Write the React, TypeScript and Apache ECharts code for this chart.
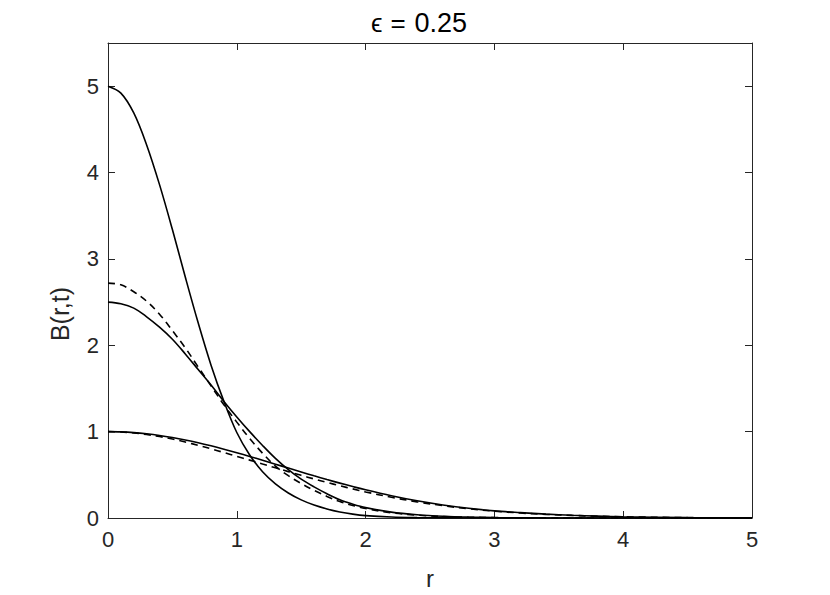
import React, { useEffect, useRef } from "react";
import * as echarts from "echarts";

const titleEps = "\u03f5";
const titleEq = "=";
const titleVal = "0.25";
const xName = "r";
const yName = "B(r,t)";
const xTicks = [0, 1, 2, 3, 4, 5];
const yTicks = [0, 1, 2, 3, 4, 5];

const rValues = [0, 0.1, 0.2, 0.3, 0.4, 0.5, 0.6, 0.7, 0.8, 0.9, 1.0, 1.1, 1.2, 1.3, 1.4, 1.5, 1.6, 1.7, 1.8, 1.9, 2.0, 2.2, 2.4, 2.6, 2.8, 3.0, 3.2, 3.4, 3.6, 3.8, 4.0, 4.5, 5.0];

const solidPeak5 = [5.0, 4.92, 4.69, 4.32, 3.86, 3.34, 2.79, 2.26, 1.77, 1.35, 0.99, 0.73, 0.535, 0.395, 0.29, 0.21, 0.15, 0.105, 0.07, 0.045, 0.028, 0.011, 0.004, 0.0015, 0.0006, 0.0002, 0, 0, 0, 0, 0, 0, 0];
const solidPeak25 = [2.5, 2.48, 2.43, 2.33, 2.21, 2.07, 1.9, 1.72, 1.54, 1.35, 1.17, 1.0, 0.84, 0.69, 0.56, 0.45, 0.36, 0.28, 0.21, 0.16, 0.12, 0.068, 0.038, 0.02, 0.01, 0.005, 0.0025, 0.001, 0.0005, 0, 0, 0, 0];
const dashedPeak27 = [2.72, 2.7, 2.62, 2.51, 2.36, 2.17, 1.97, 1.75, 1.53, 1.31, 1.11, 0.92, 0.75, 0.6, 0.49, 0.4, 0.32, 0.25, 0.19, 0.145, 0.11, 0.06, 0.033, 0.017, 0.009, 0.0045, 0.002, 0.001, 0.0005, 0, 0, 0, 0];
const solidPeak1 = [1.0, 0.997, 0.989, 0.975, 0.956, 0.932, 0.904, 0.872, 0.836, 0.797, 0.756, 0.713, 0.668, 0.623, 0.578, 0.533, 0.488, 0.445, 0.404, 0.364, 0.326, 0.258, 0.199, 0.151, 0.112, 0.082, 0.062, 0.045, 0.032, 0.022, 0.015, 0.005, 0.0015];
const dashedPeak1 = [1.0, 0.996, 0.985, 0.967, 0.943, 0.914, 0.88, 0.842, 0.801, 0.758, 0.714, 0.67, 0.625, 0.581, 0.537, 0.494, 0.452, 0.412, 0.373, 0.337, 0.302, 0.24, 0.187, 0.143, 0.107, 0.079, 0.058, 0.042, 0.03, 0.021, 0.014, 0.0045, 0.0013];

const curves = [
  { values: solidPeak5, dashed: false },
  { values: solidPeak25, dashed: false },
  { values: dashedPeak27, dashed: true },
  { values: solidPeak1, dashed: false },
  { values: dashedPeak1, dashed: true },
];

const FONT = "Liberation Sans, Arial, Helvetica, sans-serif";
const AX = "#262626";

export default function App() {
  const ref = useRef<HTMLDivElement>(null);
  useEffect(() => {
    if (!ref.current) return;
    const chart = echarts.init(ref.current, null, { renderer: "svg" });
    const axisCommon = {
      axisLine: { show: true, onZero: false, lineStyle: { color: AX, width: 1 } },
      axisTick: { show: true, inside: true, length: 7, lineStyle: { color: AX, width: 1 } },
      splitLine: { show: false },
    };
    chart.setOption({
      animation: false,
      backgroundColor: "#ffffff",
      title: {
        text: `{e|${titleEps}}{q|${titleEq}}{v|${titleVal}}`,
        left: 414,
        top: 4,
        textAlign: "center",
        textStyle: {
          fontFamily: FONT,
          fontSize: 26,
          fontWeight: "normal",
          color: "#000",
          rich: {
            e: { fontFamily: FONT, fontSize: 26, color: "#000", padding: [0, 8, 0, 0] },
            q: { fontFamily: FONT, fontSize: 26, color: "#000", padding: [0, 9, 0, 0] },
            v: { fontFamily: FONT, fontSize: 27, color: "#000" },
          },
        },
      },
      graphic: [
        {
          type: "text",
          x: 60,
          y: 314,
          rotation: Math.PI / 2,
          style: {
            text: yName,
            fontFamily: FONT,
            fontSize: 25,
            fill: AX,
            textAlign: "center",
            textVerticalAlign: "middle",
          },
        },
      ],
      grid: { left: 108, right: 78, top: 43, bottom: 77, containLabel: false },
      xAxis: [
        {
          type: "value",
          min: 0,
          max: 5,
          interval: 1,
          position: "bottom",
          name: xName,
          nameLocation: "middle",
          nameGap: 48,
          nameTextStyle: { fontFamily: FONT, fontSize: 24, color: AX },
          axisLabel: {
            fontFamily: FONT,
            fontSize: 22,
            color: AX,
            margin: 10,
            formatter: (v: number) => (xTicks.includes(v) ? String(v) : ""),
          },
          ...axisCommon,
        },
        {
          type: "value",
          min: 0,
          max: 5,
          interval: 1,
          position: "top",
          axisLabel: { show: false },
          ...axisCommon,
        },
      ],
      yAxis: [
        {
          type: "value",
          min: 0,
          max: 5.5,
          interval: 1,
          position: "left",
          axisLabel: {
            fontFamily: FONT,
            fontSize: 22,
            color: AX,
            margin: 9,
            formatter: (v: number) => (yTicks.includes(v) ? String(v) : ""),
          },
          ...axisCommon,
        },
        {
          type: "value",
          min: 0,
          max: 5.5,
          interval: 1,
          position: "right",
          axisLabel: { show: false },
          ...axisCommon,
        },
      ],
      series: curves.map((c) => ({
        type: "line",
        xAxisIndex: 0,
        yAxisIndex: 0,
        data: rValues.map((r, i) => [r, c.values[i]]),
        showSymbol: false,
        symbol: "none",
        smooth: 0.35,
        lineStyle: { color: "#000", width: 1.6, type: c.dashed ? [7, 5] : "solid" },
        silent: true,
      })),
    });
    return () => chart.dispose();
  }, []);
  return (
    <div
      ref={ref}
      style={{ position: "fixed", left: 0, top: 0, width: 830, height: 595, background: "#fff" }}
    />
  );
}
